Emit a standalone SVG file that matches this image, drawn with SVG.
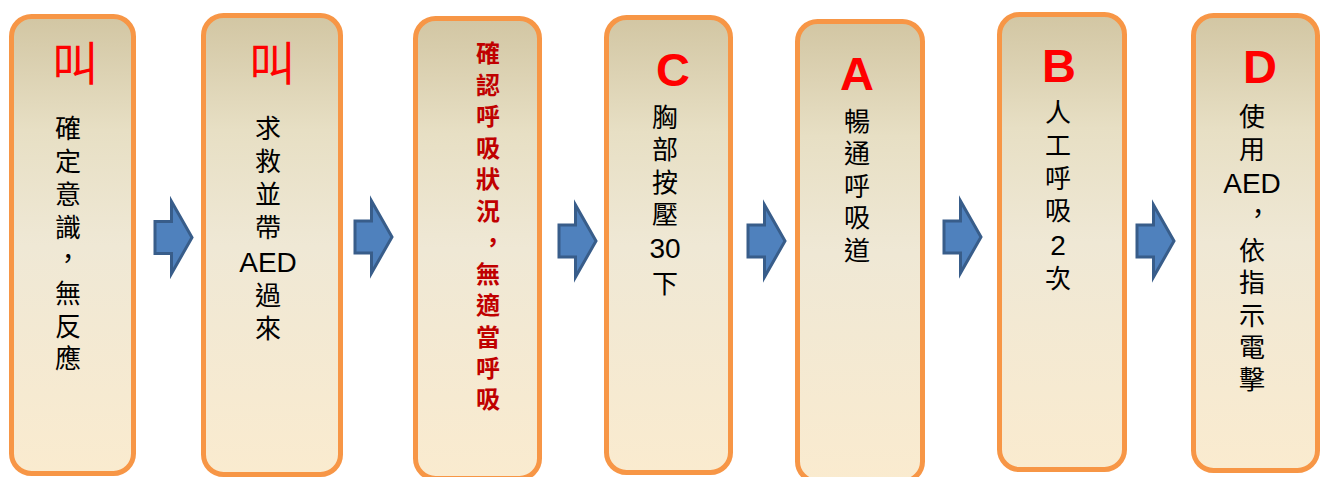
<svg xmlns="http://www.w3.org/2000/svg" width="1325" height="477" viewBox="0 0 1325 477">
<style>
.box{fill:url(#bg);stroke:#F79646;stroke-width:5}
.arr{fill:#4F81BD;stroke:#385D8A;stroke-width:3;stroke-linejoin:miter}
.cjk{font-family:"Noto Sans CJK TC","Noto Sans CJK SC",sans-serif;font-size:26px;fill:#000;text-anchor:middle}
.red{font-family:"Noto Sans CJK TC","Noto Sans CJK SC",sans-serif;font-size:24px;font-weight:bold;fill:#C00000;text-anchor:middle}
.lat{font-family:"Liberation Sans",Arial,sans-serif;font-size:28px}
.jiao{font-family:"Noto Sans CJK TC","Noto Sans CJK SC",sans-serif;font-size:46px;fill:#FF0000;text-anchor:middle}
.big{font-family:"Liberation Sans Narrow","Liberation Sans",Arial,sans-serif;font-size:47px;font-weight:bold;fill:#FF0000;text-anchor:middle}
</style>
<defs>
<linearGradient id="bg" x1="0" y1="0" x2="0" y2="1">
<stop offset="0" stop-color="#D2C6A3"/>
<stop offset="0.25" stop-color="#E7DFC4"/>
<stop offset="0.5" stop-color="#EFE8D5"/>
<stop offset="1" stop-color="#FAEBCF"/>
</linearGradient>
<path id="ar" d="M0,-16 H16.5 V-36 L37,0 L16.5,36 V16 H0 Z"/>
</defs>
<rect width="1325" height="477" fill="#FFFFFF"/>

<g id="node1">
<rect class="box" x="11.5" y="16.5" width="122" height="457" rx="20"/>
<text class="jiao" x="75" y="80">叫</text>
<text class="cjk">
<tspan x="68" y="138">確</tspan><tspan x="68" y="171">定</tspan><tspan x="68" y="204">意</tspan><tspan x="68" y="237">識</tspan><tspan x="68" y="268">，</tspan><tspan x="68" y="303">無</tspan><tspan x="68" y="336">反</tspan><tspan x="68" y="368">應</tspan>
</text>
</g>

<g id="node2">
<rect class="box" x="203.5" y="15.5" width="137" height="459" rx="20"/>
<text class="jiao" x="272" y="80">叫</text>
<text class="cjk">
<tspan x="268" y="138">求</tspan><tspan x="268" y="171">救</tspan><tspan x="268" y="204">並</tspan><tspan x="268" y="237">帶</tspan><tspan x="268" y="272" class="lat">AED</tspan><tspan x="268" y="305">過</tspan><tspan x="268" y="338">來</tspan>
</text>
</g>

<g id="node3">
<rect class="box" x="415.5" y="18.5" width="124" height="460" rx="20"/>
<text class="red">
<tspan x="488" y="62">確</tspan><tspan x="488" y="94">認</tspan><tspan x="488" y="125">呼</tspan><tspan x="488" y="157">吸</tspan><tspan x="488" y="188">狀</tspan><tspan x="488" y="220">況</tspan><tspan x="493" y="251">，</tspan><tspan x="488" y="283">無</tspan><tspan x="488" y="314">適</tspan><tspan x="488" y="346">當</tspan><tspan x="488" y="377">呼</tspan><tspan x="488" y="408">吸</tspan>
</text>
</g>

<g id="node4">
<rect class="box" x="606.5" y="17.5" width="124" height="455" rx="20"/>
<text class="big" x="673" y="86">C</text>
<text class="cjk">
<tspan x="665" y="127">胸</tspan><tspan x="665" y="159">部</tspan><tspan x="665" y="192">按</tspan><tspan x="665" y="224">壓</tspan><tspan x="665" y="258" class="lat">30</tspan><tspan x="665" y="293">下</tspan>
</text>
</g>

<g id="node5">
<rect class="box" x="797.5" y="21.5" width="125" height="460" rx="20"/>
<text class="big" x="857" y="90">A</text>
<text class="cjk">
<tspan x="857" y="131">暢</tspan><tspan x="857" y="163">通</tspan><tspan x="857" y="196">呼</tspan><tspan x="857" y="227">吸</tspan><tspan x="857" y="260">道</tspan>
</text>
</g>

<g id="node6">
<rect class="box" x="999.5" y="14.5" width="125" height="455" rx="20"/>
<text class="big" x="1059" y="82">B</text>
<text class="cjk">
<tspan x="1058" y="122">人</tspan><tspan x="1058" y="155">工</tspan><tspan x="1058" y="188">呼</tspan><tspan x="1058" y="220">吸</tspan><tspan x="1058" y="255" class="lat">2</tspan><tspan x="1058" y="288">次</tspan>
</text>
</g>

<g id="node7">
<rect class="box" x="1193.5" y="15.5" width="124" height="455" rx="20"/>
<text class="big" x="1260" y="83">D</text>
<text class="cjk">
<tspan x="1252" y="126">使</tspan><tspan x="1252" y="159">用</tspan><tspan x="1252" y="193" class="lat">AED</tspan><tspan x="1258" y="223">，</tspan><tspan x="1252" y="260">依</tspan><tspan x="1252" y="292">指</tspan><tspan x="1252" y="325">示</tspan><tspan x="1252" y="357">電</tspan><tspan x="1252" y="389">擊</tspan>
</text>
</g>

<g id="connectors">
<use href="#ar" class="arr" transform="translate(155,237.5)"/>
<use href="#ar" class="arr" transform="translate(355,237)"/>
<use href="#ar" class="arr" transform="translate(559,241)"/>
<use href="#ar" class="arr" transform="translate(748,241)"/>
<use href="#ar" class="arr" transform="translate(944,237)"/>
<use href="#ar" class="arr" transform="translate(1137,241)"/>
</g>
</svg>
